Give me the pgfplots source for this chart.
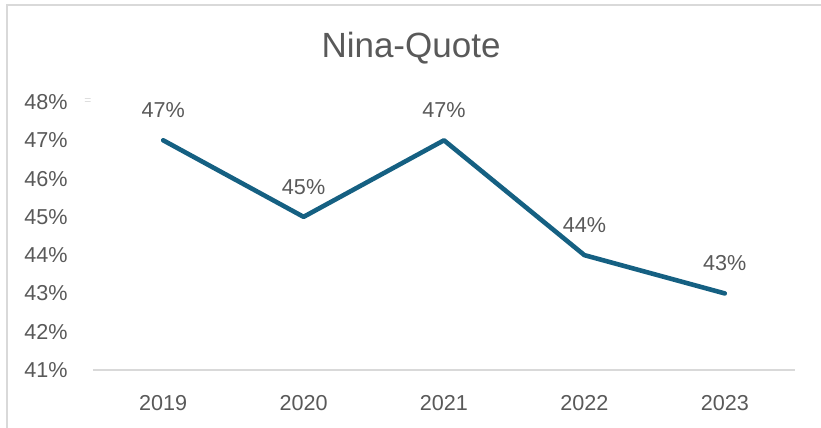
\documentclass[border=0pt]{standalone}
\usepackage{fontspec}
\setmainfont{Liberation Sans}
\usepackage{pgfplots}
\pgfplotsset{compat=1.18}
\definecolor{linec}{RGB}{21,96,130}
\definecolor{txt}{RGB}{89,89,89}
\definecolor{frame}{RGB}{217,217,217}

\begin{document}
\begin{tikzpicture}
% 1px = 0.5pt, axis box lower left at pixel (93,370)
\useasboundingbox (-46.5pt,-29pt) rectangle (364pt,185pt);
\draw[frame,line width=0.75pt] (-43pt,-29pt) -- (-43pt,182.5pt) -- (364pt,182.5pt);
\begin{axis}[
 at={(0,0)},anchor=south west,
 scale only axis,width=351pt,height=134pt,
 xmin=-0.5,xmax=4.5,ymin=41,ymax=48,
 xtick={0,1,2,3,4},xticklabels={2019,2020,2021,2022,2023},
 ytick={41,42,...,48},
 /pgf/number format/assume math mode=true,
 yticklabel={\pgfmathprintnumber{\tick}\%},
 axis x line*=bottom,axis y line*=left,
 x axis line style={frame,line width=0.75pt,-},
 y axis line style={draw=none},
 major tick length=0pt,
 tick label style={font=\fontsize{10.8}{12}\selectfont,text=txt},
 yticklabel style={anchor=east,inner sep=0pt,xshift=-12.5pt},
 xticklabel style={anchor=north,inner sep=0pt,yshift=-12.5pt},
 title={Nina-Quote},
 title style={font=\fontsize{17.5}{20}\selectfont,text=txt,anchor=center,at={(0.453,1)},yshift=21pt},
 clip=false,
 nodes near coords={\pgfmathprintnumber[assume math mode=true]{\pgfplotspointmeta}\%},
 every node near coord/.append style={font=\fontsize{10.8}{12}\selectfont,text=txt,anchor=center,yshift=15pt},
]
\addplot[linec,line width=2.3pt,line cap=round,line join=round,mark=none] coordinates {(0,47) (1,45) (2,47) (3,44) (4,43)};
\node[text=frame,font=\fontsize{6}{7}\selectfont,inner sep=0pt] at (axis cs:-0.5,48) [xshift=-2.5pt] {=};
\end{axis}
\end{tikzpicture}
\end{document}
